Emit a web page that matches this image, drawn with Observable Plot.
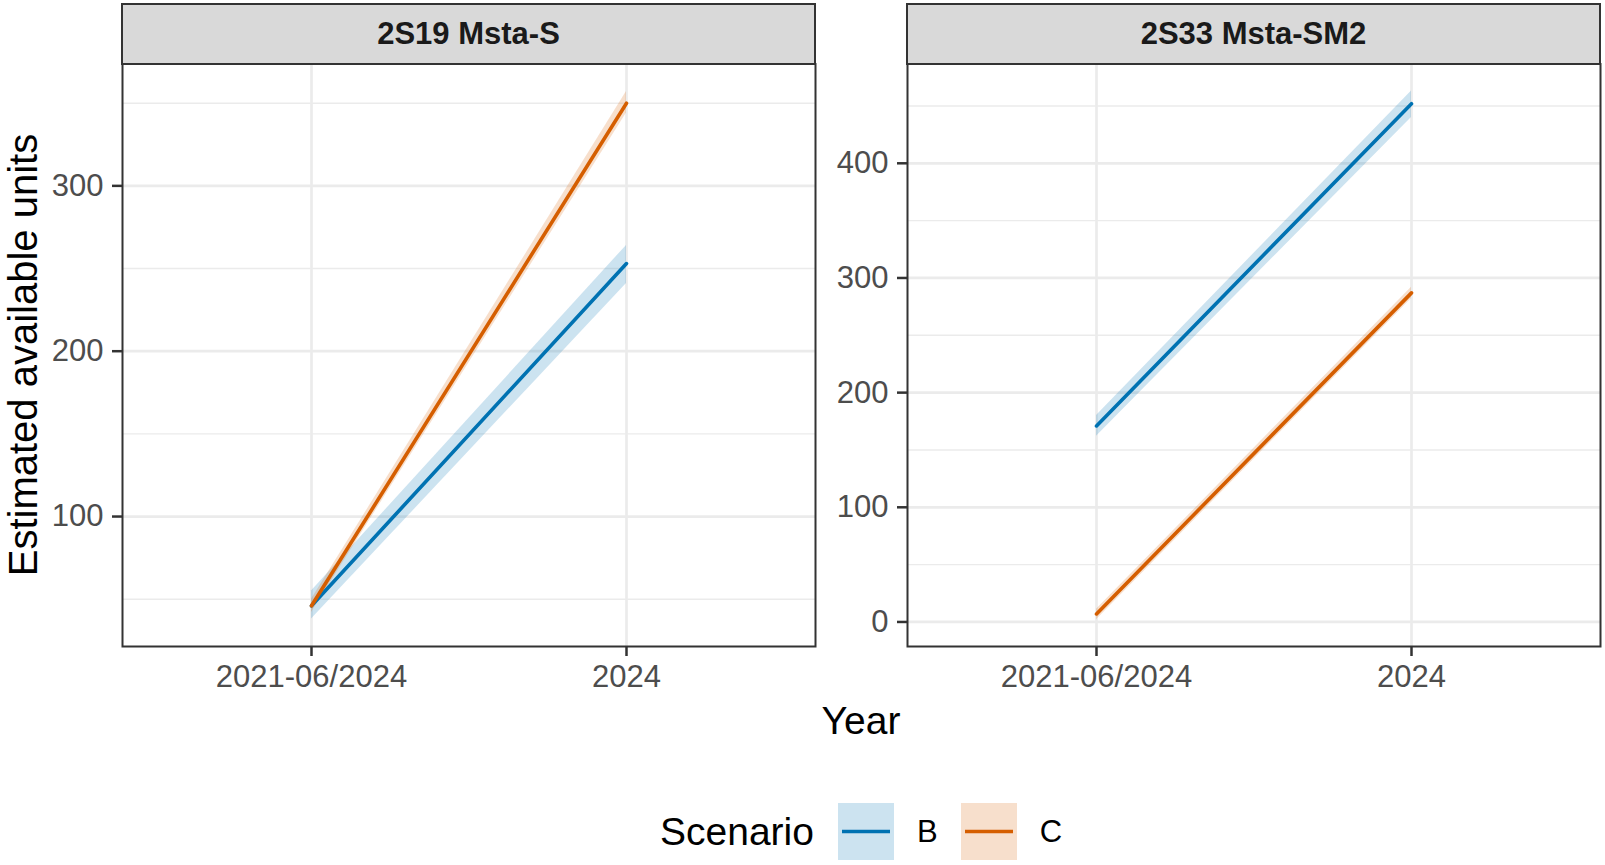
<!DOCTYPE html>
<html>
<head>
<meta charset="utf-8">
<script src="https://cdn.jsdelivr.net/npm/d3@7"></script>
<script src="https://cdn.jsdelivr.net/npm/@observablehq/plot@0.6"></script>
<style>
  html, body { margin: 0; padding: 0; background: #fff; }
  #wrap { position: relative; width: 1605px; height: 865px; overflow: hidden; font-family: "Liberation Sans", Arial, sans-serif; }
  .panel { position: absolute; top: 0; }
  .strip { position: absolute; box-sizing: border-box; background: #D9D9D9; border: 2px solid #333333; display: flex; align-items: center; justify-content: center; font-weight: bold; font-size: 31px; color: #1A1A1A; }
  .ytitle { position: absolute; width: 500px; text-align: center; font-size: 40px; line-height: 40px; height: 40px; transform: rotate(-90deg); color: #000; white-space: nowrap; }
  .xtitle { position: absolute; text-align: center; font-size: 39px; line-height: 39px; color: #000; }
  .legend { position: absolute; display: flex; align-items: center; color: #000; }
</style>
</head>
<body>
<div id="wrap"></div>
<script>
// ---- data ----
const categories = ["2021-06/2024", "2024"];
const scenarios = ["B", "C"];
const scenarioColors = ["#0072B2", "#D55E00"];
const panels = ["2S19 Msta-S", "2S33 Msta-SM2"];

// 2S19 Msta-S
const mstaS_B_mid = [46, 253];
const mstaS_B_lo  = [38, 241];
const mstaS_B_hi  = [55, 264];
const mstaS_C_mid = [46, 350];
const mstaS_C_lo  = [42, 344];
const mstaS_C_hi  = [50, 357];

// 2S33 Msta-SM2
const mstaSM2_B_mid = [171, 452];
const mstaSM2_B_lo  = [162, 440];
const mstaSM2_B_hi  = [180, 463];
const mstaSM2_C_mid = [7, 287];
const mstaSM2_C_lo  = [2, 282];
const mstaSM2_C_hi  = [11, 292];

const leftMajor = [100, 200, 300];
const leftMinor = [50, 150, 250, 350];
const rightMajor = [0, 100, 200, 300, 400];
const rightMinor = [50, 150, 250, 350, 450];

function rows(mids, los, his) {
  const out = [];
  scenarios.forEach((s, si) => {
    categories.forEach((c, ci) => {
      out.push({scenario: s, year: c, mid: mids[si][ci], lo: los[si][ci], hi: his[si][ci]});
    });
  });
  return out;
}
const leftData = rows([mstaS_B_mid, mstaS_C_mid], [mstaS_B_lo, mstaS_C_lo], [mstaS_B_hi, mstaS_C_hi]);
const rightData = rows([mstaSM2_B_mid, mstaSM2_C_mid], [mstaSM2_B_lo, mstaSM2_C_lo], [mstaSM2_B_hi, mstaSM2_C_hi]);

const H = 700, mTop = 63.5, mBottom = 54;

function panelPlot(data, domain, major, minor, width, mLeft, mRight) {
  return Plot.plot({
    width, height: H,
    marginLeft: mLeft, marginRight: mRight, marginTop: mTop, marginBottom: mBottom,
    style: {fontFamily: "Liberation Sans, Arial, sans-serif", fontSize: "31px", background: "transparent", overflow: "visible"},
    x: {type: "point", domain: categories, padding: 0.6, label: null},
    y: {domain, label: null},
    color: {domain: scenarios, range: scenarioColors},
    marks: [
      Plot.ruleY(minor, {stroke: "#EBEBEB", strokeWidth: 1.4}),
      Plot.ruleY(major, {stroke: "#EBEBEB", strokeWidth: 2.7}),
      Plot.ruleX(categories, {stroke: "#EBEBEB", strokeWidth: 2.7}),
      Plot.areaY(data, {x: "year", y1: "lo", y2: "hi", z: "scenario", fill: "scenario", fillOpacity: 0.2, curve: "linear"}),
      Plot.lineY(data, {x: "year", y: "mid", z: "scenario", stroke: "scenario", strokeWidth: 3.6}),
      Plot.frame({stroke: "#333333", strokeWidth: 2}),
      Plot.axisY({ticks: major, tickFormat: d => String(d), tickSize: 10, tickPadding: 9, stroke: "#333333", strokeWidth: 2.5, fill: "#4D4D4D", fontSize: 31, label: null}),
      Plot.axisX({tickSize: 10, tickPadding: 8, stroke: "#333333", strokeWidth: 2.5, fill: "#4D4D4D", fontSize: 31, label: null})
    ]
  });
}

const wrap = document.getElementById("wrap");

const leftSvg = panelPlot(leftData, [21.4, 373.7], leftMajor, leftMinor, 830, 122, 15);
leftSvg.classList.add("panel");
leftSvg.style.left = "0px";
wrap.appendChild(leftSvg);

const rightSvg = panelPlot(rightData, [-21.4, 486.6], rightMajor, rightMinor, 785, 87, 5);
rightSvg.classList.add("panel");
rightSvg.style.left = "820px";
wrap.appendChild(rightSvg);

// strips
[[122, 815, panels[0]], [907, 1600, panels[1]]].forEach(([x0, x1, label]) => {
  const d = document.createElement("div");
  d.className = "strip";
  d.style.left = (x0 - 1) + "px";
  d.style.top = "3px";
  d.style.width = (x1 - x0 + 2) + "px";
  d.style.height = (mTop - 2) + "px";
  d.textContent = label;
  wrap.appendChild(d);
});

// y title
const yt = document.createElement("div");
yt.className = "ytitle";
yt.textContent = "Estimated available units";
yt.style.left = (23 - 250) + "px";
yt.style.top = (355 - 20) + "px";
wrap.appendChild(yt);

// x title
const xt = document.createElement("div");
xt.className = "xtitle";
xt.textContent = "Year";
xt.style.left = "122px";
xt.style.width = (1600 - 122) + "px";
xt.style.top = (720 - 19.5) + "px";
wrap.appendChild(xt);

// legend
const lg = document.createElement("div");
lg.className = "legend";
lg.style.left = "660px";
lg.style.top = "803px";
lg.style.height = "57px";
const lt = document.createElement("span");
lt.textContent = "Scenario";
lt.style.fontSize = "39px";
lt.style.marginRight = "24px";
lg.appendChild(lt);
scenarios.forEach((s, i) => {
  const svgNS = "http://www.w3.org/2000/svg";
  const key = document.createElementNS(svgNS, "svg");
  key.setAttribute("width", 56);
  key.setAttribute("height", 57);
  const r = document.createElementNS(svgNS, "rect");
  r.setAttribute("x", 0); r.setAttribute("y", 0); r.setAttribute("width", 56); r.setAttribute("height", 57);
  r.setAttribute("fill", scenarioColors[i]); r.setAttribute("fill-opacity", 0.2);
  key.appendChild(r);
  const l = document.createElementNS(svgNS, "line");
  l.setAttribute("x1", 4); l.setAttribute("x2", 52); l.setAttribute("y1", 28.5); l.setAttribute("y2", 28.5);
  l.setAttribute("stroke", scenarioColors[i]); l.setAttribute("stroke-width", 3.6);
  key.appendChild(l);
  lg.appendChild(key);
  const t = document.createElement("span");
  t.textContent = s;
  t.style.fontSize = "31px";
  t.style.marginLeft = "23px";
  t.style.marginRight = i === 0 ? "23px" : "0px";
  lg.appendChild(t);
});
wrap.appendChild(lg);
</script>
</body>
</html>
